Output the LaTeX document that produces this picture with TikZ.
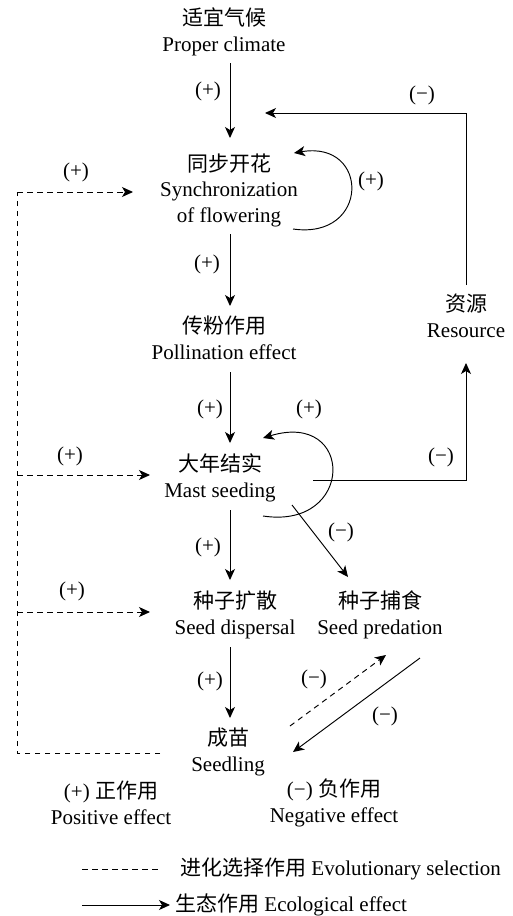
\documentclass[tikz,border=0pt]{standalone}
\usepackage{fontspec}
\setmainfont{Liberation Serif}
\newfontfamily\cjk{Noto Sans CJK SC}
\usetikzlibrary{arrows.meta,calc}
\begin{document}
\begin{tikzpicture}[x=1pt,y=-1pt,
  every node/.style={font=\fontsize{21}{25.5}\selectfont, inner sep=0pt},
  box/.style={align=center},
  ln/.style={line width=0.95pt},
  arr/.style={ln,-{Stealth[length=11pt,width=10pt,inset=3pt]}},
  dsh/.style={ln,dash pattern=on 5.5pt off 4.5pt},
  darr/.style={dsh,-{Stealth[length=11pt,width=10pt,inset=3pt]}}]
\useasboundingbox (0,0) rectangle (512,916);

% main nodes
\node[box] (climate) at (224,32) {{\cjk 适宜气候}\\Proper climate};
\node[box] (sync) at (229,190) {{\cjk 同步开花}\\Synchronization\\of flowering};
\node[box] (poll) at (224,338) {{\cjk 传粉作用}\\Pollination effect};
\node[box] (res) at (466,316) {{\cjk 资源}\\Resource};
\node[box] (mast) at (220,478) {{\cjk 大年结实}\\Mast seeding};
\node[box] (disp) at (235,615) {{\cjk 种子扩散}\\Seed dispersal};
\node[box] (pred) at (380,615) {{\cjk 种子捕食}\\Seed predation};
\node[box] (seedl) at (228,752) {{\cjk 成苗}\\Seedling};
\node[box] (pos) at (111,803) {(+) {\cjk 正作用}\\Positive effect};
\node[box] (neg) at (334,803) {(−) {\cjk 负作用}\\Negative effect};
\node[anchor=west] (leg1) at (180,869) {{\cjk 进化选择作用} Evolutionary selection};
\node[anchor=west] (leg2) at (175,905) {{\cjk 生态作用} Ecological effect};

% sign labels
\node (s1) at (208,91) {(+)};
\node (s2) at (422,95) {(−)};
\node (s3) at (76,172) {(+)};
\node (s4) at (371,181) {(+)};
\node (s5) at (207,264) {(+)};
\node (s6) at (210,409) {(+)};
\node (s7) at (309,409) {(+)};
\node (s8) at (70,456) {(+)};
\node (s9) at (441,457) {(−)};
\node (s10) at (341,532) {(−)};
\node (s11) at (208,547) {(+)};
\node (s12) at (72,591) {(+)};
\node (s13) at (210,681) {(+)};
\node (s14) at (314,679) {(−)};
\node (s15) at (385,716) {(−)};

% ecological (solid) connectors
\draw[arr] ($(climate.center)+(6,31)$) -- ($(sync.center)+(1,-52)$);
\draw[arr] ($(sync.center)+(1,44)$) -- ($(poll.center)+(6,-32)$);
\draw[arr] ($(poll.center)+(6,34)$) -- ($(mast.center)+(10,-35)$);
\draw[arr] ($(mast.center)+(10,32)$) -- ($(disp.center)+(-5,-35)$);
\draw[arr] ($(disp.center)+(-5,32)$) -- ($(seedl.center)+(2,-34)$);
\draw[arr] ($(mast.center)+(93,2)$) -| ($(res.center)+(0,47)$);
\draw[arr] ($(res.center)+(0,-31)$) |- ($(sync.center)+(36,-77)$);
\draw[arr] ($(mast.center)+(72,27)$) -- ($(pred.center)+(-32,-38)$);
\draw[arr] ($(pred.center)+(40,43)$) -- ($(seedl.center)+(65,0)$);
% self loops
\draw[arr] ($(sync.center)+(64,39)$) .. controls ($(sync.center)+(141,50)$) and ($(sync.center)+(141,-50)$) .. ($(sync.center)+(65,-37)$);
\draw[arr] ($(mast.center)+(43,38)$) .. controls ($(mast.center)+(135,52)$) and ($(mast.center)+(135,-68)$) .. ($(mast.center)+(43,-40)$);

% evolutionary (dashed) connectors
\coordinate (Lb) at (17,753);
\coordinate (Lt) at (17,192);
\coordinate (Lm) at (17,475);
\coordinate (Ld) at (17,612);
\draw[dsh] ($(seedl.center)+(-68,1)$) -- (Lb) -- (Lt);
\draw[darr] (Lt) -- ($(sync.center)+(-96,2)$);
\draw[darr] (Lm) -- ($(mast.center)+(-70,-3)$);
\draw[darr] (Ld) -- ($(disp.center)+(-85,-3)$);
\draw[darr] ($(seedl.center)+(62,-26)$) -- ($(pred.center)+(6,40)$);

% legend
\coordinate (k1) at (82,869);
\coordinate (k2) at (82,905);
\draw[dsh] (k1) -- ($(leg1.west)+(-20,0)$);
\draw[arr] (k2) -- ($(leg2.west)+(-5,0)$);
\end{tikzpicture}
\end{document}
